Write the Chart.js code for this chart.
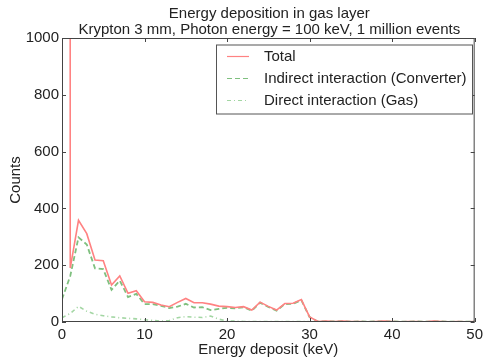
<!DOCTYPE html>
<html>
<head>
<meta charset="utf-8">
<script src="https://cdn.jsdelivr.net/npm/chart.js@4/dist/chart.umd.min.js"></script>
<style>
  html, body { margin: 0; padding: 0; background: #fff; }
  #wrap { width: 487px; height: 363px; }
</style>
</head>
<body>
<div id="wrap"><canvas id="chart" width="487" height="363"></canvas></div>
<script>
// energy bins (keV)
var energy = [];
for (var i = 0; i <= 50; i++) energy.push(i);

// counts per 1 keV bin; bin 0 of the total holds the events with no deposit
var total = [995000, 190, 358, 311, 218, 216, 130, 162, 101, 110,
  71, 69, 60, 54, 69, 83, 68, 68, 63, 56,
  54, 51, 54, 42, 70, 55, 42, 65, 66, 79,
  18, 2, 3, 2, 3, 2, 2, 1, 2, 3,
  2, 1, 2, 2, 1, 3, 2, 1, 2, 1, 2];
var indirect = [80, 162, 298, 273, 189, 186, 113, 146, 88, 99,
  63, 63, 57, 49, 54, 64, 51, 52, 42, 46,
  50, 48, 52, 40, 68, 53, 40, 63, 64, 77,
  17, 2, 2, 2, 3, 1, 2, 1, 2, 2,
  2, 1, 1, 2, 1, 2, 2, 1, 1, 1, 2];
var direct = [15, 30, 55, 38, 27, 22, 18, 15, 13, 11,
  8, 6, 3, 5, 15, 19, 17, 16, 21, 10,
  4, 3, 2, 2, 2, 2, 2, 2, 2, 2,
  1, 0, 1, 0, 0, 1, 0, 0, 1, 0,
  0, 1, 0, 0, 1, 0, 0, 1, 0, 0, 1];

var seriesNames = ['Total', 'Indirect interaction (Converter)', 'Direct interaction (Gas)'];
var titleLines = ['Energy deposition in gas layer', 'Krypton 3 mm, Photon energy = 100 keV, 1 million events'];
var xTicks = [0, 10, 20, 30, 40, 50];
var yTicks = [0, 200, 400, 600, 800, 1000];

var FONT = 'Liberation Sans, Arial, Helvetica, sans-serif';
var FS = 15;

function pts(ys) {
  return ys.map(function (v, k) { return { x: energy[k], y: v }; });
}

// title, frame with inward ticks, boxed legend
var decor = {
  id: 'decor',
  afterDatasetsDraw: function (chart) {
    var ctx = chart.ctx, a = chart.chartArea;
    var xs = chart.scales.x, ys = chart.scales.y;
    ctx.save();

    // frame
    ctx.strokeStyle = '#444';
    ctx.lineWidth = 1;
    ctx.strokeRect(a.left + 0.5, a.top + 0.5, a.right - a.left - 1, a.bottom - a.top - 1);

    // inward tick marks on all four sides
    ctx.beginPath();
    xTicks.forEach(function (t) {
      var px = Math.round(xs.getPixelForValue(t)) + 0.5;
      ctx.moveTo(px, a.bottom); ctx.lineTo(px, a.bottom - 4);
      ctx.moveTo(px, a.top); ctx.lineTo(px, a.top + 4);
    });
    yTicks.forEach(function (t) {
      var py = Math.round(ys.getPixelForValue(t)) + 0.5;
      ctx.moveTo(a.left, py); ctx.lineTo(a.left + 4, py);
      ctx.moveTo(a.right, py); ctx.lineTo(a.right - 4, py);
    });
    ctx.stroke();

    // title
    ctx.fillStyle = '#222';
    ctx.font = FS + 'px ' + FONT;
    ctx.textAlign = 'center';
    ctx.textBaseline = 'middle';
    var cx = (a.left + a.right) / 2;
    ctx.fillText(titleLines[0], cx + 1, a.top - 24.5);
    ctx.fillText(titleLines[1], cx + 1, a.top - 8.5);

    // legend box
    var bx = a.left + 154, by = a.top + 6.5, bw = 256, bh = 69;
    ctx.fillStyle = '#fff';
    ctx.fillRect(bx, by, bw, bh);
    ctx.strokeStyle = '#555';
    ctx.strokeRect(bx + 0.5, by + 0.5, bw, bh);
    ctx.textAlign = 'left';
    chart.data.datasets.forEach(function (ds, k) {
      var ly = by + 12 + k * 22;
      ctx.save();
      ctx.strokeStyle = ds.borderColor;
      ctx.lineWidth = 1.2;
      ctx.setLineDash(ds.borderDash || []);
      ctx.beginPath();
      ctx.moveTo(bx + 11, ly);
      ctx.lineTo(bx + 33, ly);
      ctx.stroke();
      ctx.restore();
      ctx.fillStyle = '#222';
      ctx.fillText(ds.label, bx + 48, ly);
    });
    ctx.restore();
  }
};

new Chart(document.getElementById('chart'), {
  type: 'line',
  data: {
    datasets: [{
      label: seriesNames[0],
      data: pts(total),
      borderColor: '#ff8282',
      borderWidth: 1.6,
      pointRadius: 0,
      tension: 0
    }, {
      label: seriesNames[1],
      data: pts(indirect),
      borderColor: '#7fc07f',
      borderWidth: 1.8,
      borderDash: [5, 3],
      pointRadius: 0,
      tension: 0
    }, {
      label: seriesNames[2],
      data: pts(direct),
      borderColor: '#a3d6a3',
      borderWidth: 1.6,
      borderDash: [4, 3, 1, 3],
      pointRadius: 0,
      tension: 0
    }]
  },
  options: {
    responsive: false,
    animation: false,
    events: [],
    layout: { padding: { top: 38, right: 8.5, left: 0, bottom: 0 } },
    plugins: {
      legend: { display: false },
      title: { display: false },
      tooltip: { enabled: false }
    },
    scales: {
      x: {
        type: 'linear',
        min: 0,
        max: 50,
        afterFit: function (s) { s.height = 41; },
        afterBuildTicks: function (s) { s.ticks = xTicks.map(function (v) { return { value: v }; }); },
        grid: { display: false, drawTicks: false },
        border: { display: false },
        ticks: {
          color: '#222', padding: 4, maxRotation: 0, font: { family: FONT, size: FS },
          callback: function (v) { return String(v); }
        },
        title: {
          display: true,
          text: 'Energy deposit (keV)',
          color: '#222',
          padding: { top: 0, bottom: 4 },
          font: { family: FONT, size: FS }
        }
      },
      y: {
        min: 0,
        max: 1000,
        afterFit: function (s) { s.width = 62; },
        afterBuildTicks: function (s) { s.ticks = yTicks.map(function (v) { return { value: v }; }); },
        grid: { display: false, drawTicks: false },
        border: { display: false },
        ticks: {
          color: '#222', padding: 3, font: { family: FONT, size: FS },
          callback: function (v) { return String(v); }
        },
        title: {
          display: true,
          text: 'Counts',
          color: '#222',
          padding: { top: 7, bottom: 0 },
          font: { family: FONT, size: FS }
        }
      }
    }
  },
  plugins: [decor]
});
</script>
</body>
</html>
